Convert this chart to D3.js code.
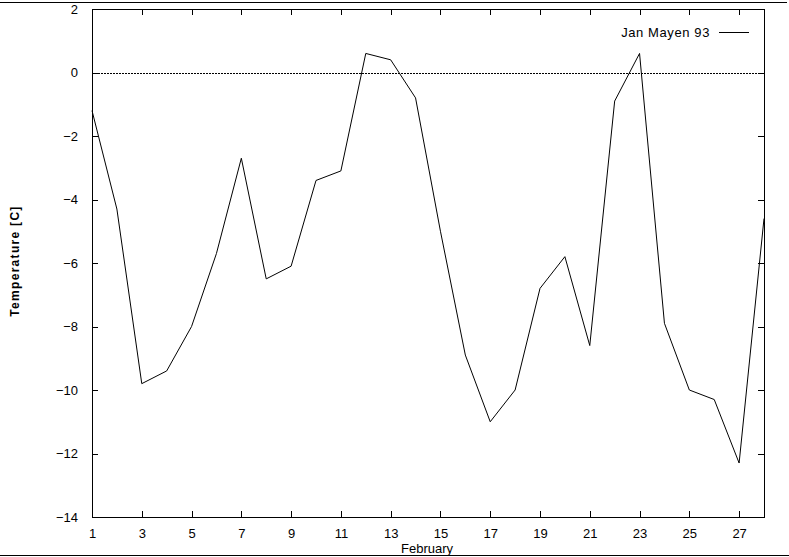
<!DOCTYPE html>
<html>
<head>
<meta charset="utf-8">
<script src="https://cdn.jsdelivr.net/npm/d3@7"></script>
<style>
  html, body { margin: 0; padding: 0; background: #fff; }
  svg { display: block; }
  text { font-family: "Liberation Sans", "DejaVu Sans", sans-serif; fill: #000; }
</style>
</head>
<body>
<svg id="chart" width="789" height="557"></svg>
<script>
const days = [1,2,3,4,5,6,7,8,9,10,11,12,13,14,15,16,17,18,19,20,21,22,23,24,25,26,27,28];
const temps = [-1.2,-4.3,-9.8,-9.4,-8.0,-5.7,-2.7,-6.5,-6.1,-3.4,-3.1,0.6,0.4,-0.8,-5.0,-8.9,-11.0,-10.0,-6.8,-5.8,-8.6,-0.9,0.6,-7.9,-10.0,-10.3,-12.3,-4.6];
const xTicks = [1,3,5,7,9,11,13,15,17,19,21,23,25,27];
const yTicks = [-14,-12,-10,-8,-6,-4,-2,0,2];
const seriesName = "Jan Mayen 93";
const xLabel = "February";
const yLabel = "Temperature [C]";

const svg = d3.select("#chart");
const W = 789, H = 557;
const m = {left: 92, right: 764, top: 9, bottom: 517};

const x = d3.scaleLinear().domain([1, 28]).range([m.left, m.right]);
const y = d3.scaleLinear().domain([-14, 2]).range([m.bottom, m.top]);

// page frame lines
svg.append("line").attr("x1", 0).attr("x2", 787).attr("y1", 2.5).attr("y2", 2.5)
  .attr("stroke", "#000").attr("stroke-width", 1);
svg.append("line").attr("x1", 0).attr("x2", W).attr("y1", 555.5).attr("y2", 555.5)
  .attr("stroke", "#000").attr("stroke-width", 1);

// zero line
svg.append("line")
  .attr("x1", x(1)).attr("x2", x(28))
  .attr("y1", Math.round(y(0)) + 0.5).attr("y2", Math.round(y(0)) + 0.5)
  .attr("stroke", "#000").attr("stroke-width", 1).attr("stroke-dasharray", "2,1");

const tl = 6;
// axes
const bottomAxis = d3.axisBottom(x).tickValues(xTicks).tickSize(-tl).tickPadding(12).tickFormat(d3.format("d"));
const topAxis = d3.axisTop(x).tickValues(xTicks).tickSize(-tl).tickFormat("");
const leftAxis = d3.axisLeft(y).tickValues(yTicks).tickSize(-tl).tickPadding(14).tickFormat(d3.format("d"));
const rightAxis = d3.axisRight(y).tickValues(yTicks).tickSize(-tl).tickFormat("");

function style(g) {
  g.select(".domain").remove();
  g.selectAll("line").attr("stroke", "#000").attr("shape-rendering", "crispEdges");
  g.selectAll("text").attr("font-size", 13).attr("font-family", "Liberation Sans, DejaVu Sans, sans-serif");
}
svg.append("g").attr("transform", `translate(0,${m.bottom})`).call(bottomAxis).call(style);
svg.append("g").attr("transform", `translate(0,${m.top})`).call(topAxis).call(style);
svg.append("g").attr("transform", `translate(${m.left},0)`).call(leftAxis).call(style);
svg.append("g").attr("transform", `translate(${m.right},0)`).call(rightAxis).call(style);

// plot border
svg.append("rect")
  .attr("x", m.left + 0.5).attr("y", m.top + 0.5)
  .attr("width", m.right - m.left).attr("height", m.bottom - m.top)
  .attr("fill", "none").attr("stroke", "#000").attr("stroke-width", 1)
  .attr("shape-rendering", "crispEdges");

// series
const line = d3.line().x((d, i) => x(days[i])).y(d => y(d));
svg.append("path")
  .datum(temps)
  .attr("d", line)
  .attr("fill", "none").attr("stroke", "#000").attr("stroke-width", 1);

// legend
svg.append("text").attr("x", 710).attr("y", 37).attr("text-anchor", "end")
  .attr("font-size", 13).attr("letter-spacing", "0.6").text(seriesName);
svg.append("line").attr("x1", 719).attr("x2", 749).attr("y1", 32.5).attr("y2", 32.5)
  .attr("stroke", "#000").attr("stroke-width", 1);

// axis labels
svg.append("text").attr("x", 427).attr("y", 553).attr("text-anchor", "middle")
  .attr("font-size", 13).text(xLabel);
svg.append("text")
  .attr("transform", "translate(19,261) rotate(-90)")
  .attr("text-anchor", "middle").attr("font-size", 12).attr("font-weight", "bold")
  .attr("letter-spacing", "1.3").text(yLabel);
</script>
</body>
</html>
